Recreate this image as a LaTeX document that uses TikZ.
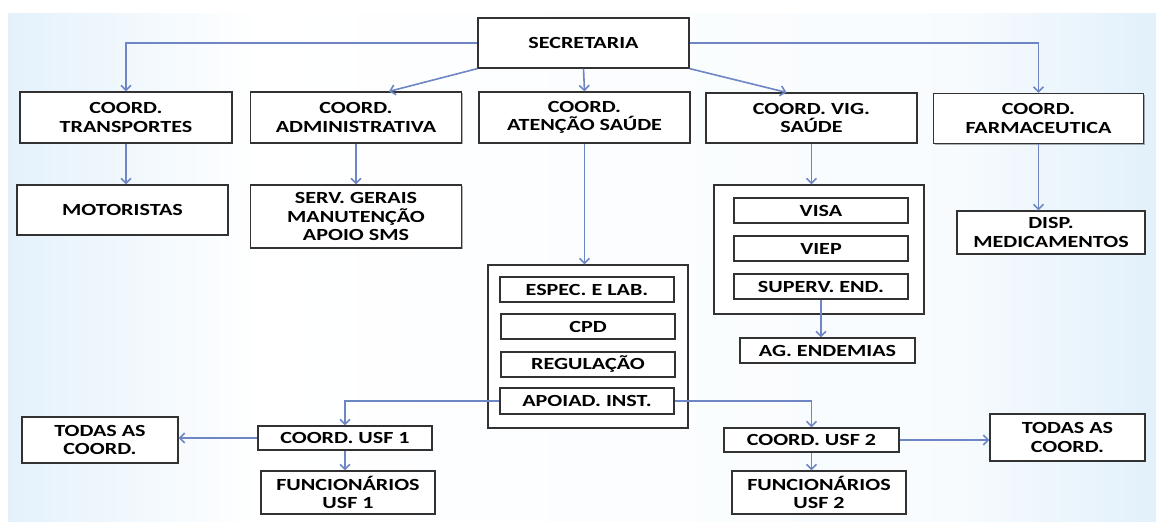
\documentclass[tikz,border=0pt]{standalone}
\usepackage{fontspec}
\newfontfamily\orgfont[FakeStretch=1.3]{Carlito}
\usetikzlibrary{arrows.meta,shadows}
\definecolor{bgblue}{RGB}{166,210,243}
\definecolor{linkblue}{RGB}{110,134,196}
\definecolor{boxline}{RGB}{50,50,50}
\pgfdeclarehorizontalshading{slidebg}{100bp}{color(0bp)=(bgblue); color(36bp)=(white); color(66bp)=(white!92!bgblue); color(100bp)=(bgblue)}

\begin{document}
\begin{tikzpicture}[x=1pt,y=-1pt]
		\tikzstyle{box}=[draw=boxline, fill=white, line width=1.2pt, inner sep=0pt, align=center, font=\orgfont\bfseries\fontsize{17}{18.5}\selectfont, drop shadow={shadow xshift=1.2pt, shadow yshift=-1.2pt, fill=black, opacity=0.3}]
		\tikzstyle{link}=[draw=linkblue, line width=1.6pt, -{Straight Barb[length=5pt,width=10pt]}]
		\useasboundingbox (0,0) rectangle (1156,523);
		% Background
		\shade[shading=slidebg] (8,13) rectangle (1156,521);
		
		% Top
		\node[box, minimum width=211pt, minimum height=50pt] (sec) at (583.5,43) {SECRETARIA};
		\node[box, minimum width=212pt, minimum height=51pt] (trans) at (126,117.5) {COORD.\\TRANSPORTES};
		\node[box, minimum width=211pt, minimum height=51pt] (admin) at (356,117.5) {COORD.\\ADMINISTRATIVA};
		\node[box, minimum width=211pt, minimum height=51pt] (aten) at (584.5,117.5) {COORD.\\ATENÇÃO SAÚDE};
		\node[box, minimum width=211pt, minimum height=50pt] (vig) at (811.5,118) {COORD. VIG.\\SAÚDE};
		\node[box, minimum width=210pt, minimum height=50pt] (farm) at (1038.5,118.5) {COORD.\\FARMACEUTICA};
		
		% Second row
		\node[box, minimum width=211pt, minimum height=50pt] (mot) at (122.5,210) {MOTORISTAS};
		\node[box, minimum width=211pt, minimum height=63pt] (serv) at (356,216.5) {SERV. GERAIS\\MANUTENÇÃO\\APOIO SMS};
		\node[box, minimum width=188pt, minimum height=43pt] (disp) at (1051,232.5) {DISP.\\MEDICAMENTOS};
		
		% Vig. saude
		\node[box, minimum width=210pt, minimum height=129pt] (vigbox) at (819,249.5) {};
		\node[box, minimum width=174pt, minimum height=25pt] (visa) at (821,210.5) {VISA};
		\node[box, minimum width=174pt, minimum height=25pt] (viep) at (821,248.5) {VIEP};
		\node[box, minimum width=174pt, minimum height=25pt] (superv) at (821,286.5) {SUPERV. END.};
		\node[box, minimum width=175pt, minimum height=25pt] (ag) at (827.5,350.5) {AG. ENDEMIAS};
		
		% Atencao saude
		\node[box, minimum width=200pt, minimum height=163pt] (atbox) at (588,346.5) {};
		\node[box, minimum width=174pt, minimum height=25pt] (espec) at (587,289.5) {ESPEC. E LAB.};
		\node[box, minimum width=174pt, minimum height=25pt] (cpd) at (588,326.5) {CPD};
		\node[box, minimum width=174pt, minimum height=25pt] (regul) at (588,364.5) {REGULAÇÃO};
		\node[box, minimum width=174pt, minimum height=26pt] (apoio) at (587,401) {APOIAD. INST.};
		
		% USF
		\node[box, minimum width=174pt, minimum height=24pt] (usf1) at (345,438) {COORD. USF 1};
		\node[box, minimum width=156pt, minimum height=46pt] (todas1) at (100,440) {TODAS AS\\COORD.};
		\node[box, minimum width=174pt, minimum height=43pt] (func1) at (348,492.5) {FUNCIONÁRIOS\\USF 1};
		\node[box, minimum width=175pt, minimum height=24pt] (usf2) at (811.5,440) {COORD. USF 2};
		\node[box, minimum width=155pt, minimum height=47pt] (todas2) at (1067.5,437.5) {TODAS AS\\COORD.};
		\node[box, minimum width=174pt, minimum height=43pt] (func2) at (819,492.5) {FUNCIONÁRIOS\\USF 2};
		
		%Arrows
		\draw[link] (sec.west) -| (trans.north);
		\draw[link] (sec.east) -| (farm.north);
		\draw[link] (sec.south west) -- ([xshift=33pt]admin.north);
		\draw[link] (sec.south east) -- ([xshift=-25pt]vig.north);
		\draw[link] (sec.south) -- (aten.north);
		\draw[link] (trans.south) -- (trans.south |- mot.north);
		\draw[link] (admin.south) -- (serv.north);
		\draw[link] (aten.south) -- (aten.south |- atbox.north);
		\draw[link] (vig.south) -- (vig.south |- vigbox.north);
		\draw[link] (superv.south) -- (superv.south |- ag.north);
		\draw[link] (farm.south) -- (farm.south |- disp.north);
		\draw[link] (apoio.west) -| (usf1.north);
		\draw[link] (apoio.east) -| (usf2.north);
		\draw[link] (usf1.west) -- (usf1.west -| todas1.east);
		\draw[link] (usf2.east) -- (usf2.east -| todas2.west);
		\draw[link] (usf1.south) -- (func1.north -| usf1.south);
		\draw[link] (usf2.south) -- (usf2.south |- func2.north);
	\end{tikzpicture}
\end{document}
